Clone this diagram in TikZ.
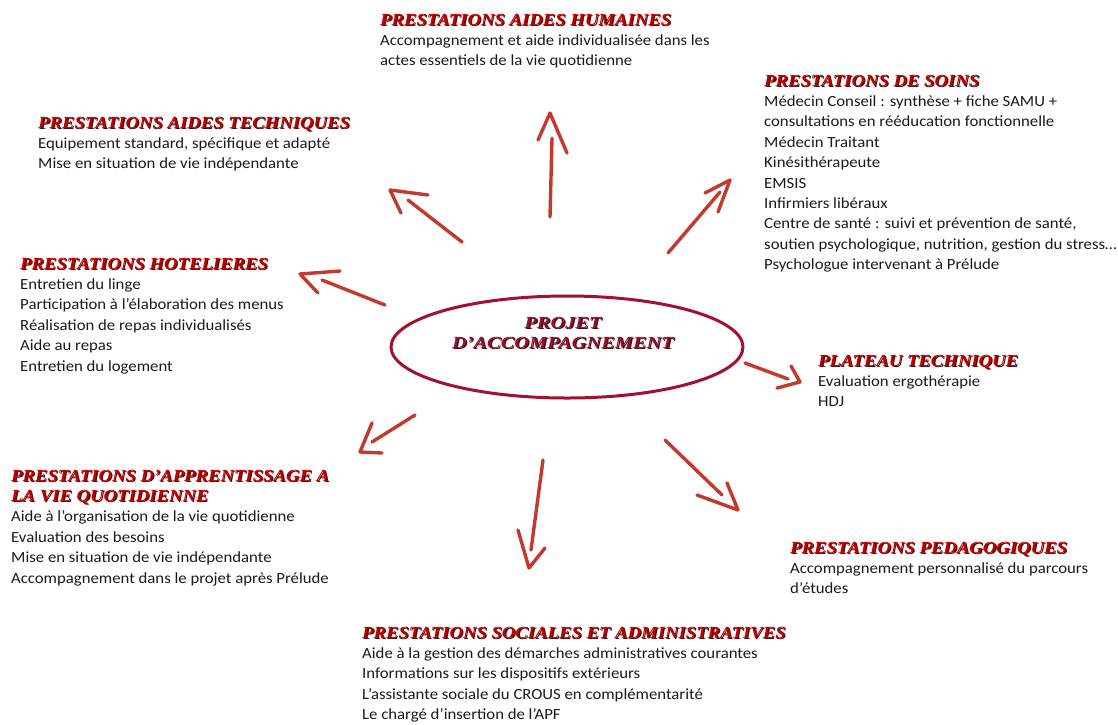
\documentclass[tikz,border=0pt]{standalone}
\usepackage{fontspec}
\usetikzlibrary{shapes.geometric}
\setmainfont{Carlito}[FakeStretch=1.08]
\newfontfamily\ttlfont{Liberation Serif}[FakeStretch=1.1]
\newfontfamily\elfont{Liberation Serif}[FakeStretch=1.2]
\definecolor{ttlred}{HTML}{C00000}
\definecolor{ttlshadow}{HTML}{4A0000}
\definecolor{elred}{HTML}{A0122E}
\definecolor{eltext}{HTML}{8E1238}
\definecolor{arrowred}{HTML}{C3392C}
\definecolor{bodytext}{HTML}{1A1A1A}
\newcommand\shadowed[3]{\makebox[0pt][l]{\hspace{1.1pt}\raisebox{-1.1pt}{\color{#2}#1}}{\color{#3}#1}}
\newcommand\ttl[1]{\shadowed{\ttlfont\fontsize{17}{20.4}\selectfont\bfseries\itshape #1}{ttlshadow}{ttlred}}
\newcommand\eltxt[1]{\shadowed{\elfont\fontsize{17}{20}\selectfont\bfseries\itshape #1}{ttlshadow}{eltext}}
\tikzset{
  block/.style={anchor=base west, inner sep=0pt, text=bodytext, font=\fontsize{15.5}{20.4}\selectfont},
  arr/.style={draw=arrowred, line width=3.4pt, line cap=round, line join=round},
  centre/.style={draw=elred, line width=3pt, ellipse, inner sep=0pt, minimum width=352pt, minimum height=102pt}
}
\begin{document}
\begin{tikzpicture}[x=1pt, y=-1pt]
\useasboundingbox (0,0) rectangle (1118,724);

% centre
\node[centre] (projetell) at (567,347) {};
\node[inner sep=0pt, align=center, font=\fontsize{17}{20}\selectfont] (projet) at (563,333)
  {\eltxt{PROJET}\\ \eltxt{D’ACCOMPAGNEMENT}};

% blocks
\node[block] (humaines) at (380,25) {\begin{tabular}[t]{@{}l@{}}
\ttl{PRESTATIONS AIDES HUMAINES}\\
Accompagnement et aide individualisée dans les\\
actes essentiels de la vie quotidienne
\end{tabular}};

\node[block] (soins) at (764,86) {\begin{tabular}[t]{@{}l@{}}
\ttl{PRESTATIONS DE SOINS}\\
Médecin Conseil : synthèse + fiche SAMU +\\
consultations en rééducation fonctionnelle\\
Médecin Traitant\\
Kinésithérapeute\\
EMSIS\\
Infirmiers libéraux\\
Centre de santé : suivi et prévention de santé,\\
soutien psychologique, nutrition, gestion du stress…\\
Psychologue intervenant à Prélude
\end{tabular}};

\node[block] (techniques) at (38,128) {\begin{tabular}[t]{@{}l@{}}
\ttl{PRESTATIONS AIDES TECHNIQUES}\\
Equipement standard, spécifique et adapté\\
Mise en situation de vie indépendante
\end{tabular}};

\node[block] (hotel) at (20,269) {\begin{tabular}[t]{@{}l@{}}
\ttl{PRESTATIONS HOTELIERES}\\
Entretien du linge\\
Participation à l’élaboration des menus\\
Réalisation de repas individualisés\\
Aide au repas\\
Entretien du logement
\end{tabular}};

\node[block] (plateau) at (818,366) {\begin{tabular}[t]{@{}l@{}}
\ttl{PLATEAU TECHNIQUE}\\
Evaluation ergothérapie\\
HDJ
\end{tabular}};

\node[block] (apprent) at (11,481) {\begin{tabular}[t]{@{}l@{}}
\ttl{PRESTATIONS D’APPRENTISSAGE A}\\
\ttl{LA VIE QUOTIDIENNE}\\
Aide à l’organisation de la vie quotidienne\\
Evaluation des besoins\\
Mise en situation de vie indépendante\\
Accompagnement dans le projet après Prélude
\end{tabular}};

\node[block] (pedago) at (790,553) {\begin{tabular}[t]{@{}l@{}}
\ttl{PRESTATIONS PEDAGOGIQUES}\\
Accompagnement personnalisé du parcours\\
d’études
\end{tabular}};

\node[block] (sociales) at (362,638) {\begin{tabular}[t]{@{}l@{}}
\ttl{PRESTATIONS SOCIALES ET ADMINISTRATIVES}\\
Aide à la gestion des démarches administratives courantes\\
Informations sur les dispositifs extérieurs\\
L’assistante sociale du CROUS en complémentarité\\
Le chargé d’insertion de l’APF
\end{tabular}};

% arrows
\coordinate (a1s) at (550,217); \coordinate (a1e) at (552,138); \coordinate (a1t) at (550,113);
\coordinate (a1l) at (538,140); \coordinate (a1r) at (567,153);
\draw[arr] (a1s) -- (a1e); \draw[arr] (a1l) -- (a1t) -- (a1r);

\coordinate (a2s) at (462,242); \coordinate (a2e) at (408,200); \coordinate (a2t) at (390,190);
\coordinate (a2l) at (428,195); \coordinate (a2r) at (401,213);
\draw[arr] (a2s) -- (a2e); \draw[arr] (a2l) -- (a2t) -- (a2r);

\coordinate (a3s) at (668,253); \coordinate (a3e) at (720,192); \coordinate (a3t) at (730,180);
\coordinate (a3l) at (705,193); \coordinate (a3r) at (718,212);
\draw[arr] (a3s) -- (a3e); \draw[arr] (a3l) -- (a3t) -- (a3r);

\coordinate (a4s) at (385,305); \coordinate (a4e) at (322,280); \coordinate (a4t) at (300,274);
\coordinate (a4l) at (340,271); \coordinate (a4r) at (318,293);
\draw[arr] (a4s) -- (a4e); \draw[arr] (a4l) -- (a4t) -- (a4r);

\coordinate (a5s) at (745,363); \coordinate (a5e) at (788,379); \coordinate (a5t) at (800,382);
\coordinate (a5l) at (791,366); \coordinate (a5r) at (777,388);
\draw[arr] (a5s) -- (a5e); \draw[arr] (a5l) -- (a5t) -- (a5r);

\coordinate (a6s) at (415,415); \coordinate (a6e) at (372,442); \coordinate (a6t) at (360,452);
\coordinate (a6l) at (372,423); \coordinate (a6r) at (382,453);
\draw[arr] (a6s) -- (a6e); \draw[arr] (a6l) -- (a6t) -- (a6r);

\coordinate (a7s) at (543,460); \coordinate (a7e) at (531,550); \coordinate (a7t) at (529,568);
\coordinate (a7l) at (518,530); \coordinate (a7r) at (545,548);
\draw[arr] (a7s) -- (a7e); \draw[arr] (a7l) -- (a7t) -- (a7r);

\coordinate (a8s) at (665,440); \coordinate (a8e) at (722,495); \coordinate (a8t) at (738,510);
\coordinate (a8l) at (727,483); \coordinate (a8r) at (697,495);
\draw[arr] (a8s) -- (a8e); \draw[arr] (a8l) -- (a8t) -- (a8r);
\end{tikzpicture}
\end{document}
